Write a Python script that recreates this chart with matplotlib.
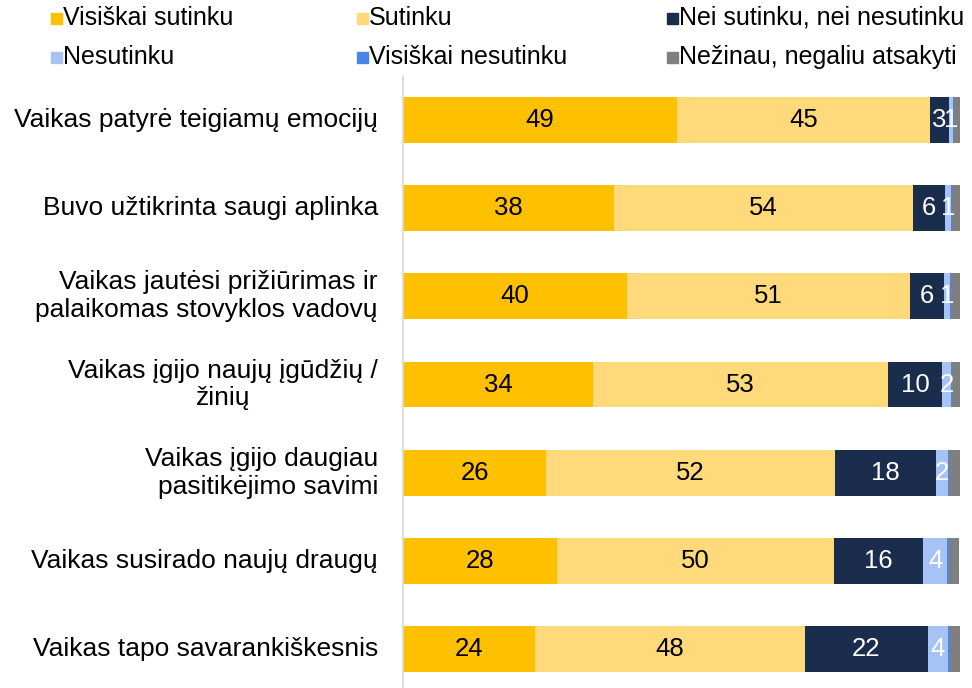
import numpy as np
import matplotlib.pyplot as plt
from matplotlib.patches import Rectangle

plt.rcParams['font.family'] = ['Liberation Sans', 'DejaVu Sans']

# Data (percent; labels are the rounded values)
categories = [
    "Vaikas patyrė teigiamų emocijų",
    "Buvo užtikrinta saugi aplinka",
    "Vaikas jautėsi prižiūrimas ir\npalaikomas stovyklos vadovų",
    "Vaikas įgijo naujų įgūdžių /\nžinių",
    "Vaikas įgijo daugiau\npasitikėjimo savimi",
    "Vaikas susirado naujų draugų",
    "Vaikas tapo savarankiškesnis",
]
series_names = ["Visiškai sutinku", "Sutinku", "Nei sutinku, nei nesutinku",
                "Nesutinku", "Visiškai nesutinku", "Nežinau, negaliu atsakyti"]
visiskai_sutinku = [49.2, 37.9, 40.2, 34.1, 25.7, 27.6, 23.7]
sutinku = [45.4, 53.7, 50.8, 53.0, 51.9, 49.8, 48.4]
nei = [3.4, 5.7, 6.1, 9.7, 18.1, 16.0, 22.1]
nesutinku = [0.7, 1.1, 1.1, 1.6, 2.1, 4.3, 3.6]
visiskai_nesutinku = [0.2, 0.2, 0.2, 0.2, 0.2, 0.4, 0.4]
nezinau = [1.1, 1.4, 1.6, 1.4, 2.0, 1.8, 1.8]

series = [visiskai_sutinku, sutinku, nei, nesutinku, visiskai_nesutinku, nezinau]
colors = ["#FFC000", "#FFD97A", "#1B2D4D", "#A5C3F5", "#4A86E8", "#7F7F7F"]
label_colors = ["black", "black", "white", "white", None, None]
aligns = ["right", "right", "right", "center", "right", "right", "right"]

fig = plt.figure(figsize=(9.72, 6.88), dpi=100)
ax = fig.add_axes([0.4146, -0.0073, 0.573, 0.8968])

y = np.arange(len(categories))
left = np.zeros(len(categories))
for vals, col, lc in zip(series, colors, label_colors):
    vals = np.array(vals, dtype=float)
    bars = ax.barh(y, vals, left=left, height=0.52, color=col)
    if lc is not None:
        ax.bar_label(bars, labels=[f"{v:.0f}" for v in vals], label_type='center',
                     color=lc, fontsize=18.5)
    left += vals

ax.set_xlim(0, 100)
ax.set_ylim(len(categories) - 0.5, -0.5)
ax.set_xticks([])
ax.set_yticks([])
for s in ['top', 'right', 'bottom']:
    ax.spines[s].set_visible(False)
ax.spines['left'].set_color('#D9D9D9')
ax.spines['left'].set_linewidth(1.2)

for i, (cat, al) in enumerate(zip(categories, aligns)):
    ax.annotate(cat, xy=(0, i), xycoords=('axes fraction', 'data'),
                xytext=(-25, 0), textcoords='offset pixels',
                ha='right', va='center', multialignment=al,
                fontsize=19, linespacing=1.2)

# legend
W, H = 972, 688
col_x = [62, 368, 678]
row_y = [18, 57]
for k, (name, col) in enumerate(zip(series_names, colors)):
    cx = col_x[k % 3]
    cy = row_y[k // 3]
    fig.patches.append(Rectangle(((cx - 11) / W, 1 - (cy + 6) / H), 11 / W, 11 / H,
                                 transform=fig.transFigure, color=col))
    fig.text((cx + 1) / W, 1 - cy / H, name, fontsize=18, ha='left', va='center')

fig.savefig("out.png", dpi=100)
